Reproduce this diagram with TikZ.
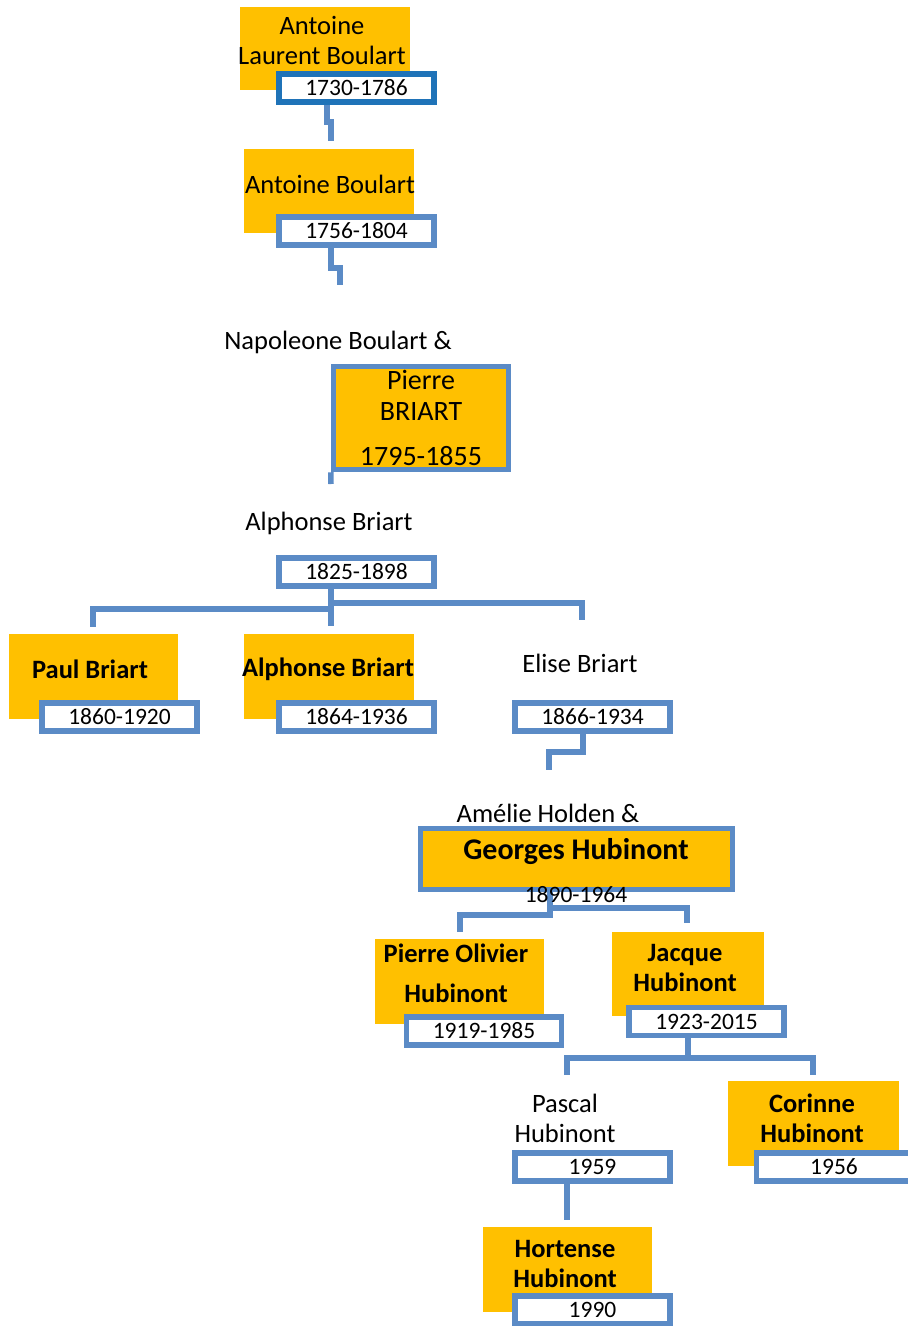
\documentclass[tikz,border=0pt]{standalone}
\usepackage{fontspec}
\setmainfont{Carlito}
\usepackage{xcolor}
\usetikzlibrary{
    calc,
    positioning
}
\definecolor{gold}{HTML}{FFC000}
\definecolor{lineblue}{HTML}{5B8BC6}
\definecolor{deepblue}{HTML}{1F73B8}
\tikzset{
    namebox/.style={fill=gold, inner sep=0pt, anchor=north west},
    datebox/.style={draw=lineblue, line width=5.5pt, fill=white, minimum width=155pt,
        minimum height=28pt, inner sep=0pt, font=\fontsize{23.5}{27}\selectfont},
    nametext/.style={align=center, inner sep=0pt, font=\fontsize{26.5}{30}\selectfont},
    boldtext/.style={nametext, font=\fontsize{26.5}{30}\selectfont\bfseries},
    link/.style={draw=lineblue, line width=5.5pt}
}

\begin{document}
\begin{tikzpicture}[x=1pt, y=-1pt]
    \useasboundingbox (0, 0) rectangle (908, 1326);
    % gold boxes
    \node[namebox, minimum width=170pt, minimum height=83pt] (o1) at (240, 7) {};
    \node[namebox, minimum width=170pt, minimum height=84pt] (o2) at (244, 149) {};
    \node[namebox, minimum width=169pt, minimum height=85pt] (o4) at (9, 634) {};
    \node[namebox, minimum width=170pt, minimum height=85pt] (o5) at (244, 634) {};
    \node[namebox, minimum width=169pt, minimum height=85pt] (o7) at (375, 939) {};
    \node[namebox, minimum width=152pt, minimum height=84pt] (o8) at (612, 932) {};
    \node[namebox, minimum width=171pt, minimum height=85pt] (o9) at (728, 1081) {};
    \node[namebox, minimum width=169pt, minimum height=85pt] (o10) at (483, 1227) {};
    \node[fill=gold, draw=lineblue, line width=5.5pt, minimum width=175pt, minimum height=103pt,
        inner sep=0pt, align=center, font=\fontsize{28}{31}\selectfont] (o3) at (421, 418)
        {Pierre\\BRIART\\[14pt]1795-1855};
    \node[fill=gold, draw=lineblue, line width=5.5pt, minimum width=312pt, minimum height=61pt,
        inner sep=0pt] (o6) at (576.5, 859) {};

    % connectors
    \coordinate (c1a) at (327, 122);
    \coordinate (c1) at (331, 141);
    \coordinate (c2a) at (331, 268);
    \coordinate (c2) at (340, 285);
    \coordinate (c3) at (331, 484);
    \coordinate (c4) at (331, 626);
    \coordinate (b4l) at (331, 609);
    \coordinate (b4r) at (331, 603);
    \coordinate (c4l) at (93, 627);
    \coordinate (c4r) at (582, 620);
    \coordinate (c6a) at (583, 752);
    \coordinate (c6) at (549, 770);
    \coordinate (b7l) at (550, 915);
    \coordinate (b7r) at (550, 908);
    \coordinate (c7l) at (460, 932);
    \coordinate (c7r) at (687, 923);
    \coordinate (b8) at (688, 1058);
    \coordinate (c8l) at (567, 1075);
    \coordinate (c8r) at (813, 1075);
    \coordinate (c9) at (567, 1220);

    \draw[link] (c1a |- 0, 100) -- (c1a) -| (c1);
    \draw[link] (c2a |- 0, 245) -- (c2a) -| (c2);
    \draw[link] (o3.south west) -- (c3);
    \draw[link] (c4 |- 0, 586) -- (c4);
    \draw[link] (b4l) -| (c4l);
    \draw[link] (b4r) -| (c4r);
    \draw[link] (c6a |- 0, 731) -- (c6a) -| (c6);
    \draw[link] (o6.south -| b7l) -- (b7l) -| (c7l);
    \draw[link] (b7r) -| (c7r);
    \draw[link] (b8 |- 0, 1036) -- (b8) -| (c8l);
    \draw[link] (b8) -| (c8r);
    \draw[link] (c9 |- 0, 1181) -- (c9);

    % names
    \node[nametext] (t1) at (322, 40) {Antoine\\Laurent Boulart};
    \node[nametext] (t2) at (330, 184) {Antoine Boulart};
    \node[nametext] (t3) at (338, 342) {Napoleone Boulart \&};
    \node[nametext] (t4) at (329, 523) {Alphonse Briart};
    \node[boldtext] (t5) at (90, 669) {Paul Briart};
    \node[boldtext] (t6) at (328, 669) {Alphonse Briart};
    \node[nametext] (t7) at (580, 663) {Elise Briart};
    \node[nametext] (t8) at (548, 813) {Amélie Holden \&};
    \node[boldtext, font=\fontsize{30}{34}\selectfont\bfseries] (t9) at (576, 852) {Georges Hubinont};
    \node[nametext, font=\fontsize{23.5}{27}\selectfont] (t10) at (576, 895) {1890-1964};
    \node[boldtext, font=\fontsize{26.5}{40}\selectfont\bfseries] (t11) at (456, 973) {Pierre Olivier\\Hubinont};
    \node[boldtext] (t12) at (685, 968) {Jacque\\Hubinont};
    \node[nametext] (t13) at (565, 1118) {Pascal\\Hubinont};
    \node[boldtext] (t14) at (812, 1118) {Corinne\\Hubinont};
    \node[boldtext] (t15) at (565, 1264) {Hortense\\Hubinont};

    % dates
    \node[datebox, draw=deepblue] (d1) at (356.5, 88) {1730-1786};
    \node[datebox] (d2) at (356.5, 231) {1756-1804};
    \node[datebox] (d3) at (356.5, 572) {1825-1898};
    \node[datebox] (d4) at (119.5, 717) {1860-1920};
    \node[datebox] (d5) at (356.5, 717) {1864-1936};
    \node[datebox] (d6) at (592.5, 717) {1866-1934};
    \node[datebox] (d7) at (484, 1031) {1919-1985};
    \node[datebox] (d8) at (706.5, 1021.5) {1923-2015};
    \node[datebox] (d9) at (592.5, 1167) {1959};
    \node[datebox] (d10) at (834, 1167) {1956};
    \node[datebox] (d11) at (592.5, 1310) {1990};
\end{tikzpicture}
\end{document}
